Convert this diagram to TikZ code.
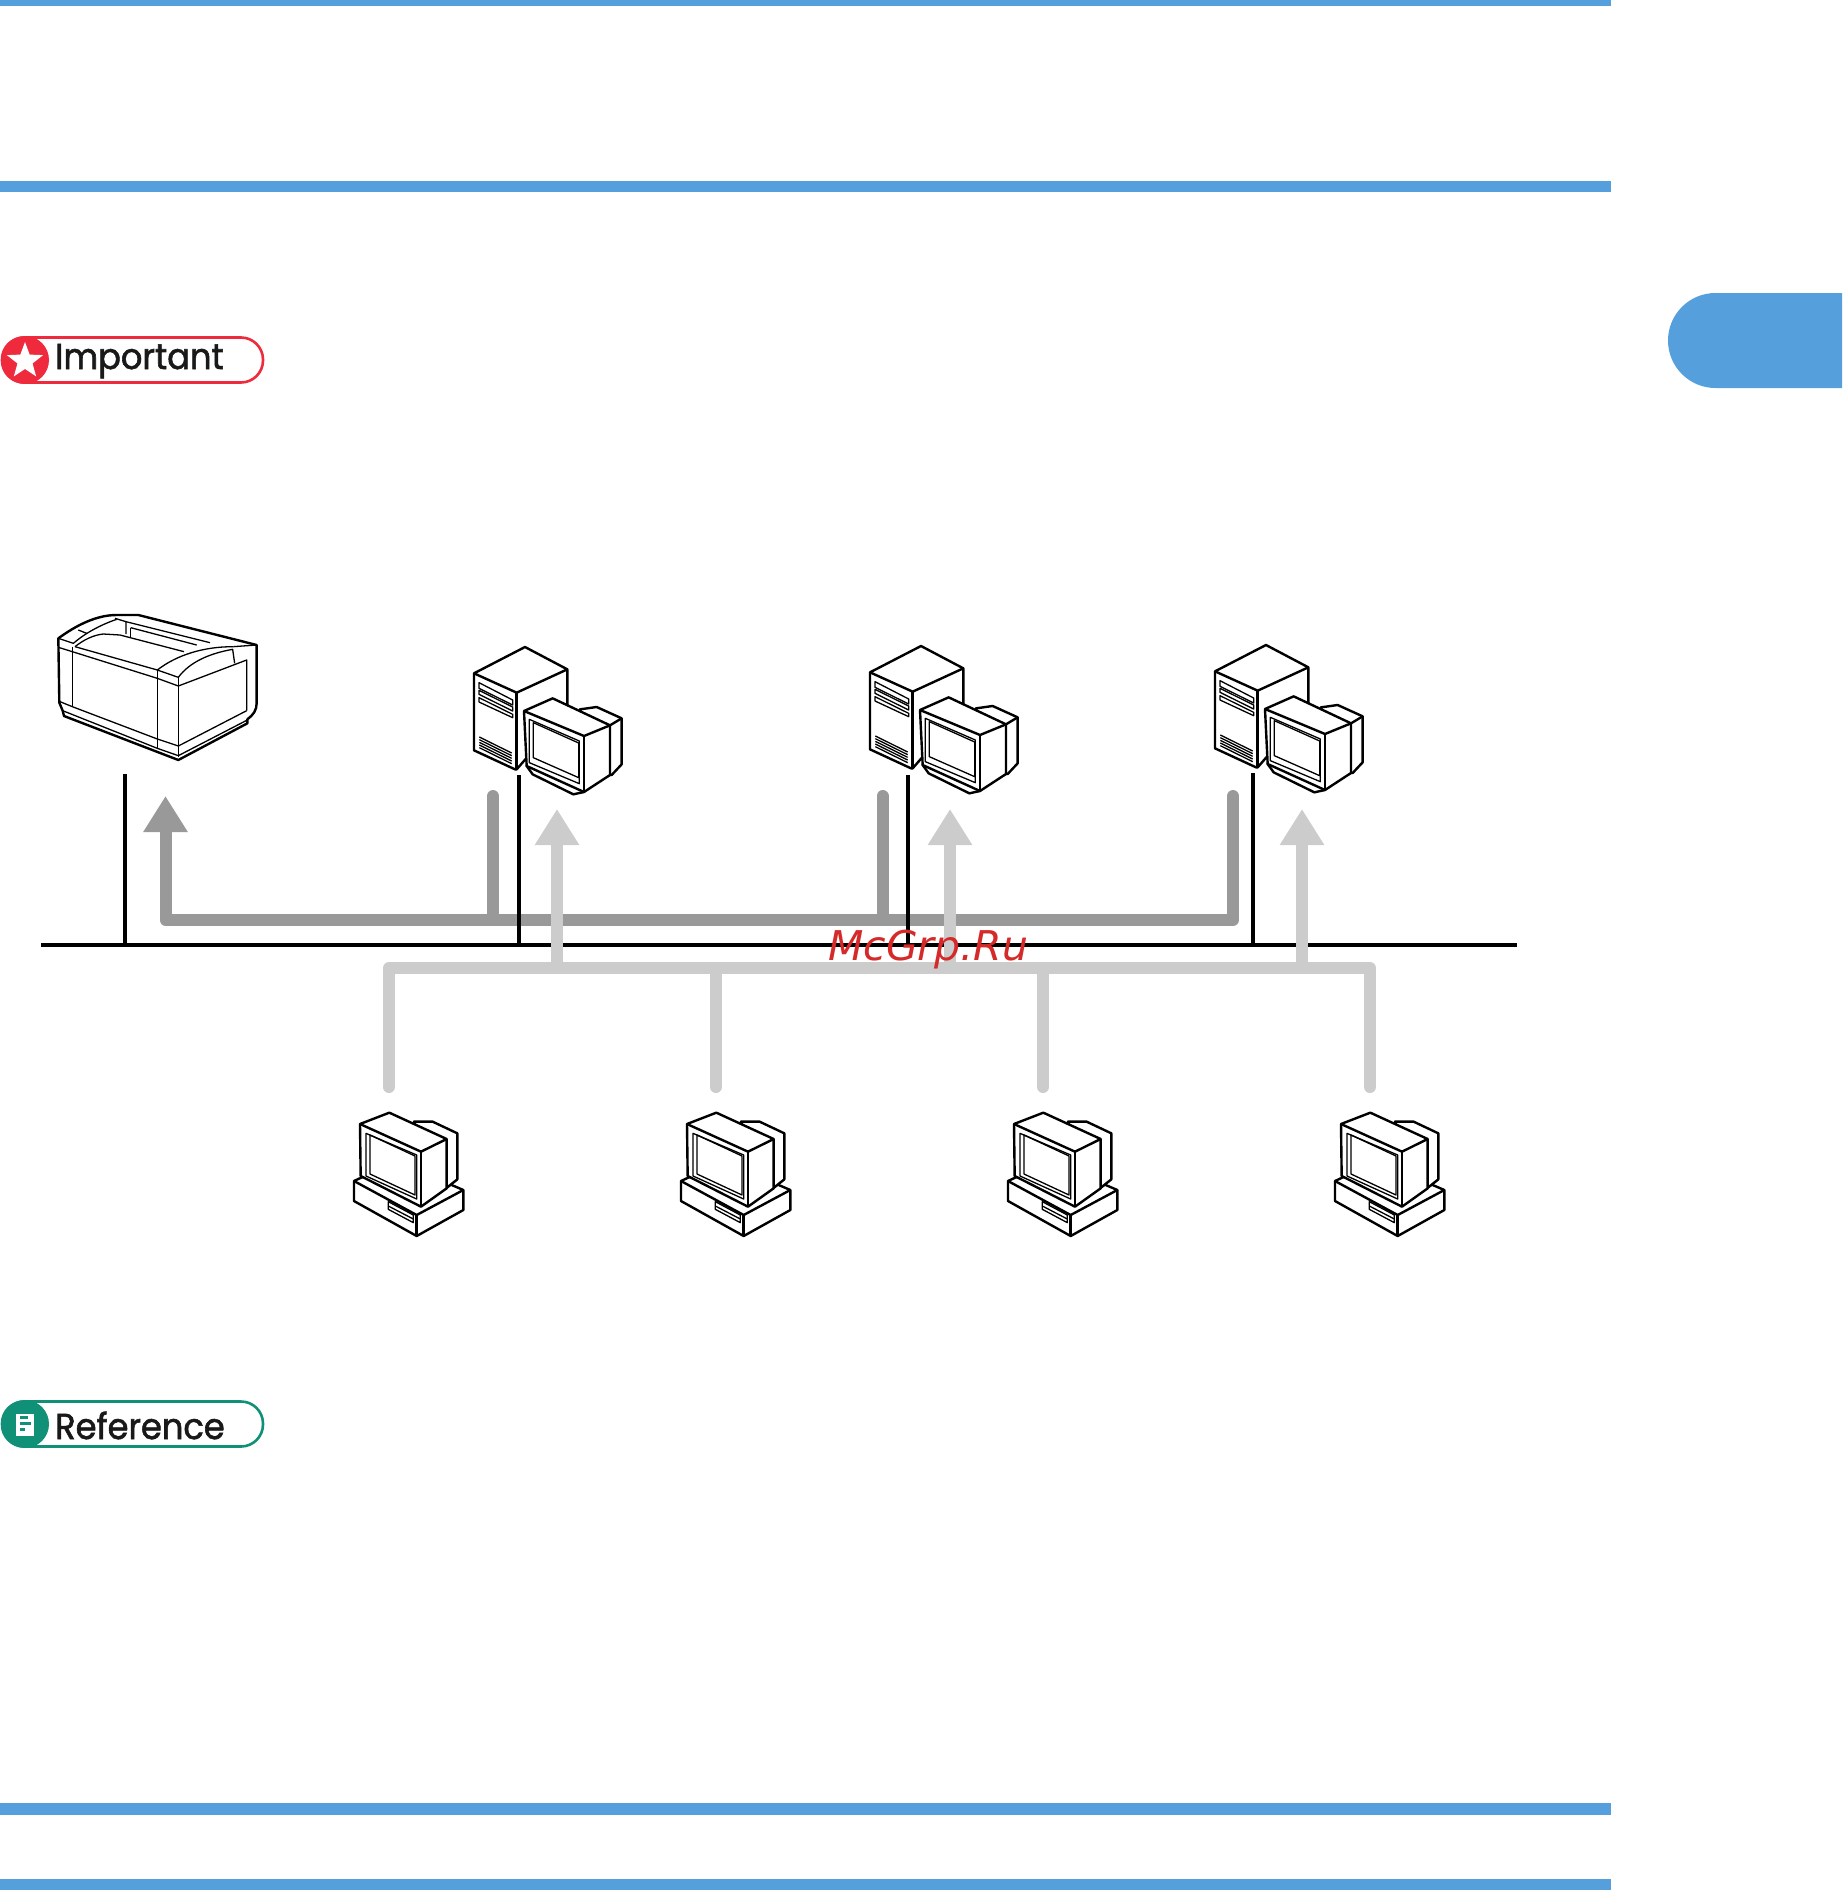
\documentclass[tikz,border=0pt]{standalone}
\usepackage{fontspec}
\usepackage{xcolor}
\usepackage{tikz}
\usetikzlibrary{arrows.meta,shapes.geometric}
\newfontfamily\badgefont{Poppins}[FakeStretch=0.935,FakeBold=1.6]
\newfontfamily\markfont{DejaVu Sans}
\definecolor{barblue}{HTML}{559FDD}
\definecolor{badgered}{HTML}{EE2A3C}
\definecolor{badgeteal}{HTML}{119078}
\definecolor{busdark}{HTML}{999999}
\definecolor{buslight}{HTML}{CCCCCC}
\definecolor{markred}{HTML}{D42A2A}
\tikzstyle{bar}=[fill=barblue,draw=none]
\tikzstyle{badgetext}=[anchor=base west,inner sep=0pt,text=black!90,font=\badgefont\fontsize{36}{36}\selectfont]
\tikzstyle{lan}=[draw=black,line width=4pt]
\tikzstyle{busd}=[draw=busdark,line width=12pt,line cap=round,line join=round]
\tikzstyle{busl}=[draw=buslight,line width=12pt,line cap=round,line join=round]
\tikzstyle{bighead}=[-{Triangle[length=36pt,width=42pt]}]
\tikzstyle{thick line}=[line width=2.4pt,line join=round]
\tikzstyle{thin line}=[line width=1.3pt,line join=round]
\tikzset{
  pics/server/.style={code={
    \begin{scope}[scale=1/3]
      % tower
      \draw[thick line,fill=white] (42,127) -- (195,48) -- (322,115) -- (322,240) -- (170,415) -- (165,415) -- (42,358) -- cycle;
      \draw[thick line] (42,127) -- (170,185) -- (322,115);
      \draw[thick line] (170,185) -- (170,415);
      \draw[thin line] (57,155) -- (158,207) -- (158,222) -- (57,172) -- cycle;
      \draw[thin line] (57,178) -- (158,228) -- (158,240) -- (57,190) -- cycle;
      \draw[thin line] (57,200) -- (158,250) -- (158,260) -- (57,213) -- cycle;
      \foreach \i in {0,8,16,24,32}
        \draw[thin line] (58,318+\i) -- (155,366+\i);
      % monitor
      \draw[thick line,fill=white] (360,235) -- (410,228) -- (485,262) -- (485,400) -- (455,432) -- (400,432) -- cycle;
      \draw[thick line,fill=white] (200,405) -- (218,430) -- (340,490) -- (372,483) -- (372,400) -- cycle;
      \draw[thick line,fill=white] (192,240) -- (278,202) -- (450,283) -- (450,432) -- (372,483) -- (200,405) -- cycle;
      \draw[thick line] (192,240) -- (372,315) -- (450,283);
      \draw[thick line] (372,315) -- (372,483);
      \draw[thick line] (450,283) -- (485,262);
      \draw[thin line] (208,265) -- (358,330) -- (358,458) -- (208,395) -- cycle;
      \draw[thin line] (220,275) -- (356,336) -- (356,440) -- (220,380) -- cycle;
    \end{scope}
  }},
  pics/desktop/.style={code={
    \begin{scope}[scale=1/3]
      % base
      \draw[thick line,fill=white] (42,243) -- (70,230) -- (335,255) -- (370,270) -- (370,330) -- (230,408) -- (42,303) -- cycle;
      \draw[thick line] (42,243) -- (230,345) -- (370,270);
      \draw[thick line] (230,345) -- (230,408);
      \draw[thin line] (145,305) -- (220,345) -- (220,368) -- (145,328) -- cycle;
      \draw[thin line] (145,318) -- (220,357);
      % monitor
      \draw[thick line,fill=white] (222,65) -- (278,65) -- (352,100) -- (352,238) -- (322,262) -- (290,262) -- cycle;
      \draw[thick line,fill=white] (60,72) -- (148,38) -- (320,117) -- (320,265) -- (243,320) -- (62,228) -- cycle;
      \draw[thick line] (60,72) -- (243,155) -- (320,117);
      \draw[thick line] (243,155) -- (243,320);
      \draw[thin line] (78,100) -- (230,165) -- (230,297) -- (78,228) -- cycle;
      \draw[thin line] (90,105) -- (225,168) -- (225,285) -- (90,222) -- cycle;
    \end{scope}
  }},
  pics/printer/.style={code={
    \begin{scope}[scale=1/3]
      \draw[thick line,fill=white] (55,145) .. controls (110,105) and (170,75) .. (230,75) -- (295,75) -- (650,165) -- (650,340) .. controls (650,360) and (640,375) .. (622,388) -- (622,400) -- (415,510) -- (72,378) -- (68,362) -- (58,338) -- cycle;
      \draw[thin line] (55,145) -- (100,160) .. controls (135,130) and (180,105) .. (230,88);
      \draw[thin line] (225,85) -- (258,95) -- (258,132);
      \draw[thin line] (258,95) -- (510,158);
      \draw[thin line] (272,113) -- (272,140);
      \draw[thin line] (272,113) -- (470,165);
      \draw[thin line] (115,120) -- (140,130);
      \draw[thin line] (105,170) .. controls (130,150) and (160,135) .. (190,132) -- (240,135) -- (432,185);
      \draw[thin line] (105,170) -- (352,240) -- (415,262);
      \draw[thin line] (55,172) -- (97,185) -- (352,265) -- (415,288) -- (620,210) -- (620,362);
      \draw[thin line] (97,170) -- (97,350);
      \draw[thin line] (60,335) -- (97,350) -- (352,447) -- (415,468) -- (620,362);
      \draw[thin line] (352,240) -- (352,475);
      \draw[thin line] (415,262) -- (415,500);
      \draw[thin line] (352,240) .. controls (410,195) and (490,170) .. (580,170);
      \draw[thin line] (415,262) .. controls (450,215) and (510,190) .. (578,178) -- (584,220);
      \draw[thin line] (580,170) -- (650,165);
      \draw[thin line] (68,362) -- (352,475) -- (415,497) -- (622,390);
    \end{scope}
  }}
}

\begin{document}
\begin{tikzpicture}[x=1pt,y=-1pt]
        \useasboundingbox (0,0) rectangle (1842,1890);

        % page rules and tab
        \fill[bar] (0,0) rectangle (1611,6);
        \fill[bar] (0,181) rectangle (1611,192);
        \fill[bar] (0,1803) rectangle (1611,1815);
        \fill[bar] (0,1879) rectangle (1611,1890);
        \fill[bar] (1842,388) -- (1715.5,388) arc (270:90:47.5pt) -- (1842,293) -- cycle;

        % badges
        \draw[badgered,line width=2.6pt,fill=white,rounded corners=22pt] (2,337.5) rectangle (263,382.5);
        \fill[badgered] (25,360) circle (24pt);
        \node at (25,361) [star,star points=5,star point ratio=2.4,fill=white,minimum size=38pt,inner sep=0pt] (starmark) {};
        \node at (55,369) [badgetext] (important) {Important};

        \draw[badgeteal,line width=2.6pt,fill=white,rounded corners=22pt] (2,1401.5) rectangle (263,1446.5);
        \fill[badgeteal] (25,1424) circle (24pt);
        \fill[white] (16,1414) rectangle (34,1436);
        \fill[badgeteal] (20,1416) rectangle (28,1418.5);
        \fill[badgeteal] (20,1422) rectangle (31,1424.5);
        \fill[badgeteal] (20,1428) rectangle (25,1431);
        \node at (55,1439) [badgetext] (reference) {Reference};

        % devices
        \pic at (40,590) {printer};
        \pic at (460,631) {server};
        \pic at (856,630) {server};
        \pic at (1201,629) {server};
        \pic at (340,1100) {desktop};
        \pic at (667,1100) {desktop};
        \pic at (994,1100) {desktop};
        \pic at (1321,1100) {desktop};

        % connection points
        \coordinate (lanL) at (41,945);
        \coordinate (lanR) at (1517,945);
        \coordinate (dropP) at (124.5,774);
        \coordinate (dropA) at (518.5,775);
        \coordinate (dropB) at (908,775);
        \coordinate (dropC) at (1253,773);
        \coordinate (sendA) at (493,796);
        \coordinate (sendB) at (882.5,796);
        \coordinate (sendC) at (1233,796);
        \coordinate (intoP) at (165.5,796);
        \coordinate (busD) at (165.5,920);
        \coordinate (intoA) at (557,809);
        \coordinate (intoB) at (950,809);
        \coordinate (intoC) at (1302,809);
        \coordinate (busL) at (389,968);
        \coordinate (pcA) at (389,1087);
        \coordinate (pcB) at (716,1087);
        \coordinate (pcC) at (1043,1087);
        \coordinate (pcD) at (1370,1087);

        % print jobs to the printer
        \draw[busd] [bighead] (sendC) -- (sendC |- busD) -- (busD) -- (intoP);
        \draw[busd] (sendA) -- (sendA |- busD);
        \draw[busd] (sendB) -- (sendB |- busD);

        % network
        \draw[lan] (lanL) -- (lanR);
        \draw[lan] (dropP) -- (dropP |- lanL);
        \draw[lan] (dropA) -- (dropA |- lanL);
        \draw[lan] (dropB) -- (dropB |- lanL);
        \draw[lan] (dropC) -- (dropC |- lanL);

        % jobs from the clients
        \draw[busl] (pcA) -- (busL) -- (busL -| pcD) -- (pcD);
        \draw[busl] (pcB) -- (pcB |- busL);
        \draw[busl] (pcC) -- (pcC |- busL);
        \draw[busl,line cap=butt] [bighead] (intoA |- busL) -- (intoA);
        \draw[busl,line cap=butt] [bighead] (intoB |- busL) -- (intoB);
        \draw[busl,line cap=butt] [bighead] (intoC |- busL) -- (intoC);

        \node at (828,960) [anchor=base west,inner sep=0pt,text=markred,font=\markfont\itshape\fontsize{41}{41}\selectfont] (watermark) {McGrp.Ru};
      \end{tikzpicture}
\end{document}
